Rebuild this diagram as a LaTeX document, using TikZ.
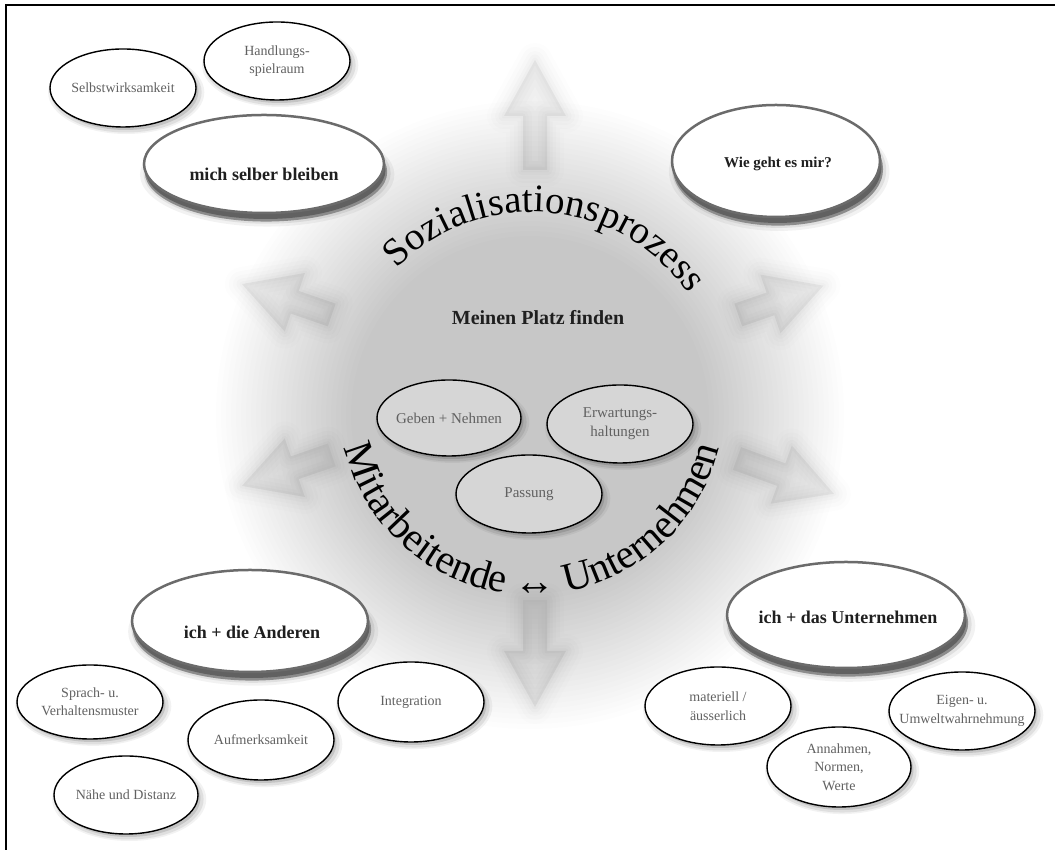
\documentclass[tikz,border=0pt]{standalone}
\usepackage{fontspec}
\setmainfont{Liberation Serif}
\usetikzlibrary{shapes.geometric,shadows,decorations.text}
\newcommand\glowarrow[2]{%
  \begin{scope}[shift={(535,465)}, rotate=#1]
    \pgfmathsetmacro\ahb{#2-56}
    \foreach \w/\o in {34/0.008, 26/0.01, 18/0.012, 11/0.014, 5/0.016} {
      \draw[black, draw opacity=\o, line width=\w pt, line join=round]
        (215,-12) -- (\ahb,-12) -- (\ahb,-31) -- (#2,0) -- (\ahb,31) -- (\ahb,12) -- (215,12) -- cycle;
    }
    \fill[black, fill opacity=0.055]
        (215,-12) -- (\ahb,-12) -- (\ahb,-31) -- (#2,0) -- (\ahb,31) -- (\ahb,12) -- (215,12) -- cycle;
  \end{scope}}
\tikzset{
  smallell/.style={ellipse, draw=black, line width=1.4pt, fill=white, inner sep=0pt,
    general shadow={fill=black, opacity=0.05, shadow scale=1.07, shadow xshift=3pt, shadow yshift=-4pt},
    general shadow={fill=black, opacity=0.08, shadow scale=1.035, shadow xshift=3pt, shadow yshift=-4pt},
    general shadow={fill=black, opacity=0.12, shadow xshift=2.5pt, shadow yshift=-3pt}},
  innerell/.style={smallell, fill=black!16},
  bigell/.style={ellipse, draw=black!58, line width=2.5pt, fill=white, inner sep=0pt,
    general shadow={fill=black, opacity=0.05, shadow scale=1.06, shadow xshift=3pt, shadow yshift=-10pt},
    general shadow={fill=black, opacity=0.08, shadow scale=1.03, shadow xshift=3pt, shadow yshift=-9pt},
    general shadow={fill=black!45, shadow scale=1.01, shadow xshift=2pt, shadow yshift=-8pt},
    general shadow={fill=black!62, shadow xshift=1.5pt, shadow yshift=-6pt}},
  smalltxt/.style={align=center, text=black!62, inner sep=0pt, font=\fontsize{14}{18.5}\selectfont},
  innertxt/.style={align=center, text=black!62, inner sep=0pt, font=\fontsize{15}{19}\selectfont},
  bigtxt/.style={text=black!88, inner sep=0pt, font=\fontsize{18}{22}\selectfont\bfseries},
}
\begin{document}
\begin{tikzpicture}[x=1pt, y=1pt]
\useasboundingbox (0,0) rectangle (1055,850);
% frame (top and left)
\draw[line width=2.6pt] (6,0) -- (6,845) -- (1055,845);
% blurred arrows
\glowarrow{90}{325}
\glowarrow{270}{322}
\glowarrow{161}{310}
\glowarrow{199}{310}
\glowarrow{19}{305}
\glowarrow{-20}{318}
% central glow (stacked translucent discs, smooth fade)
\foreach \r in {314,309,...,179} {
  \fill[black, fill opacity=0.0066] (530,435) circle (\r);
}
% curved texts
\path[decorate, decoration={text along path, text align=center,
  text={|\fontsize{39}{39}\selectfont|Sozialisationsprozess}}]
  (532,448) ++(175:190) arc[start angle=175, end angle=-5, radius=190];
\path[decorate, decoration={text along path, text align=center,
  text={|\fontsize{41}{41}\selectfont|Mitarbeitende ↔ Unternehmen}}]
  (532,448) ++(170:193) arc[start angle=170, end angle=370, radius=193];
\node[inner sep=0pt, text=black!88, font=\fontsize{20}{24}\selectfont\bfseries] (platz) at (538,532) {Meinen Platz finden};
% inner ellipses
\node[innerell, minimum width=144pt, minimum height=76pt] (geben) at (449,432) {};
\node[innertxt] (gebent) at (geben) {Geben + Nehmen};
\node[innerell, minimum width=146pt, minimum height=78pt] (erw) at (620,426) {};
\node[innertxt] (erwt) at (erw) {Erwartungs-\\haltungen};
\node[innerell, minimum width=146pt, minimum height=78pt] (pass) at (529,356) {};
\node[innertxt] (passt) at (pass) {Passung};
% big ellipses
\node[bigell, minimum width=240pt, minimum height=98pt] (mich) at (264,686) {};
\node[bigtxt] (micht) at (264,676) {mich selber bleiben};
\node[bigell, minimum width=208pt, minimum height=112pt] (wie) at (776,689) {};
\node[bigtxt, font=\fontsize{15}{19}\selectfont\bfseries] (wiet) at (778,686) {Wie geht es mir?};
\node[bigell, minimum width=236pt, minimum height=102pt] (andere) at (250,229) {};
\node[bigtxt] (anderet) at (252,218) {ich + die Anderen};
\node[bigell, minimum width=238pt, minimum height=106pt] (untern) at (846,235) {};
\node[bigtxt] (unternt) at (848,233) {ich + das Unternehmen};
% small ellipses
\node[smallell, minimum width=146pt, minimum height=78pt] (selbst) at (123,762) {};
\node[smalltxt] (selbstt) at (selbst) {Selbstwirksamkeit};
\node[smallell, minimum width=146pt, minimum height=78pt] (hand) at (277,789) {};
\node[smalltxt] (handt) at (hand) {Handlungs-\\spielraum};
\node[smallell, minimum width=146pt, minimum height=74pt] (sprach) at (90,148) {};
\node[smalltxt] (spracht) at (sprach) {Sprach- u.\\Verhaltensmuster};
\node[smallell, minimum width=146pt, minimum height=80pt] (aufm) at (261,110) {};
\node[smalltxt] (aufmt) at (aufm) {Aufmerksamkeit};
\node[smallell, minimum width=146pt, minimum height=80pt] (integ) at (411,148) {};
\node[smalltxt] (integt) at (integ) {Integration};
\node[smallell, minimum width=144pt, minimum height=78pt] (naehe) at (126,55) {};
\node[smalltxt] (naehet) at (naehe) {Nähe und Distanz};
\node[smallell, minimum width=146pt, minimum height=78pt] (mat) at (718,144) {};
\node[smalltxt] (matt) at (mat) {materiell /\\äusserlich};
\node[smallell, minimum width=146pt, minimum height=78pt] (eigen) at (962,139) {};
\node[smalltxt] (eigent) at (eigen) {Eigen- u.\\Umweltwahrnehmung};
\node[smallell, minimum width=144pt, minimum height=80pt] (annahme) at (839,83) {};
\node[smalltxt] (annahmet) at (annahme) {Annahmen,\\Normen,\\Werte};
\end{tikzpicture}
\end{document}
